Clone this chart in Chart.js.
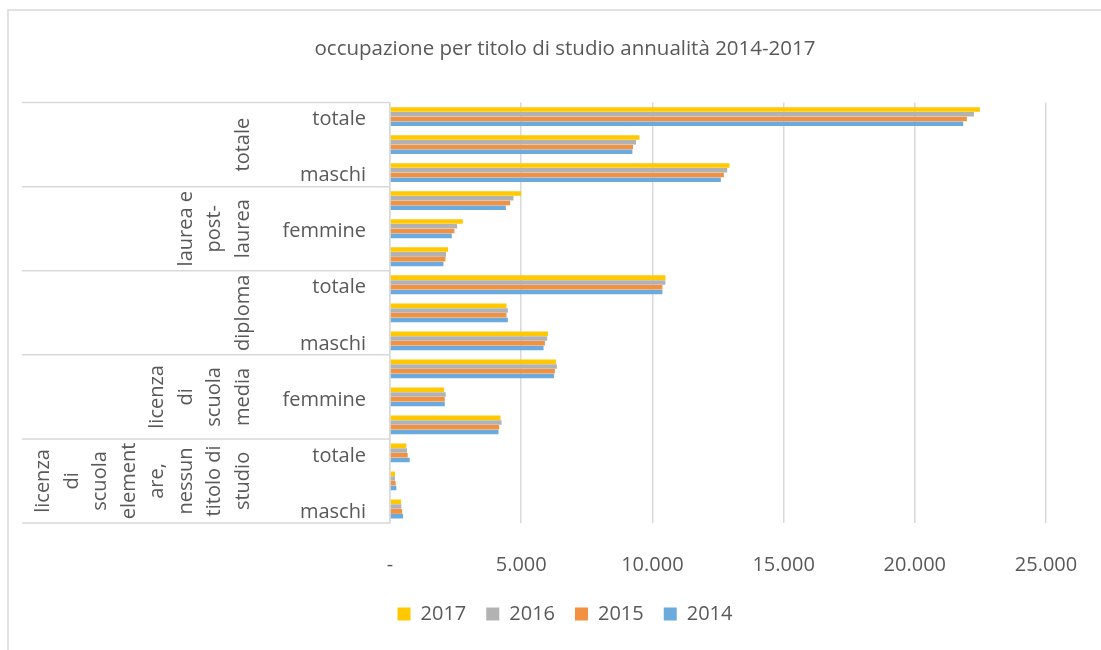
<!DOCTYPE html>
<html>
<head>
<meta charset="utf-8">
<script src="https://cdn.jsdelivr.net/npm/chart.js@4"></script>
<style>
  html, body { margin: 0; padding: 0; background: #fff; overflow: hidden; }
</style>
</head>
<body>
<canvas id="occupazione" width="1101" height="650"></canvas>
<script>
// righe dall'alto verso il basso
const rowLabels = ['totale', 'femmine', 'maschi', 'totale', 'femmine', 'maschi', 'totale', 'femmine', 'maschi',
                   'totale', 'femmine', 'maschi', 'totale', 'femmine', 'maschi'];
const groupLabels = [
  ['totale'],
  ['laurea e', 'post-', 'laurea'],
  ['diploma'],
  ['licenza', 'di', 'scuola', 'media'],
  ['licenza', 'di', 'scuola', 'element', 'are,', 'nessun', 'titolo di', 'studio']
];
const years = ['2017', '2016', '2015', '2014'];
const v2017 = [22481, 9504, 12939, 5000, 2774, 2214, 10496, 4440, 6018, 6323, 2061, 4211, 622, 191, 420];
const v2016 = [22252, 9378, 12851, 4707, 2557, 2137, 10496, 4491, 5992, 6361, 2125, 4249, 649, 191, 433];
const v2015 = [21985, 9263, 12723, 4580, 2455, 2112, 10382, 4440, 5903, 6285, 2087, 4160, 674, 216, 458];
const v2014 = [21844, 9237, 12608, 4415, 2354, 2036, 10382, 4491, 5852, 6247, 2087, 4135, 751, 242, 496];
const xTicks = [0, 5000, 10000, 15000, 20000, 25000];
const colors = ['#ffc800', '#b2b2b2', '#f2913f', '#6aaadc'];

const txtColor = '#595959';
const lineColor = '#d9d9d9';
const fontFamily = '"Open Sans", sans-serif';

// etichette di gruppo + linee di separazione (asse a più livelli)
const groupAxis = {
  id: 'groupAxis',
  beforeDraw(chart) {
    const ctx = chart.ctx;
    ctx.save();
    ctx.strokeStyle = lineColor;
    ctx.lineWidth = 1.5;
    ctx.beginPath();
    ctx.moveTo(8, 650); ctx.lineTo(8, 10); ctx.lineTo(1101, 10);
    ctx.stroke();
    ctx.restore();
  },
  afterDraw(chart) {
    const ctx = chart.ctx;
    const y = chart.scales.y;
    const area = chart.chartArea;
    ctx.save();
    ctx.strokeStyle = lineColor;
    ctx.lineWidth = 1.5;
    const n = groupLabels.length;
    for (let g = 0; g <= n; g++) {
      let py;
      if (g === 0) py = area.top;
      else if (g === n) py = area.bottom;
      else py = (y.getPixelForValue(g * 3 - 1) + y.getPixelForValue(g * 3)) / 2;
      ctx.beginPath();
      ctx.moveTo(22, py);
      ctx.lineTo(area.left, py);
      ctx.stroke();
    }
    ctx.fillStyle = txtColor;
    ctx.font = '20px ' + fontFamily;
    ctx.textAlign = 'center';
    ctx.textBaseline = 'middle';
    groupLabels.forEach((lines, g) => {
      const cy = y.getPixelForValue(g * 3 + 1);
      lines.forEach((line, i) => {
        const cx = area.left - 147 - (lines.length - 1 - i) * 28.5;
        ctx.save();
        ctx.translate(cx, cy);
        ctx.rotate(-Math.PI / 2);
        ctx.fillText(line, 0, 0);
        ctx.restore();
      });
    });
    ctx.restore();
  }
};

const datasets = years.map((yr, i) => ({
  label: yr,
  data: [v2017, v2016, v2015, v2014][i],
  backgroundColor: colors[i],
  borderWidth: 0,
  categoryPercentage: 0.68,
  barPercentage: 0.95
}));

new Chart(document.getElementById('occupazione'), {
  type: 'bar',
  data: { labels: rowLabels, datasets: datasets },
  plugins: [groupAxis],
  options: {
    indexAxis: 'y',
    responsive: false,
    animation: false,
    devicePixelRatio: 1,
    layout: { padding: { left: 84, right: 55, top: 10, bottom: 16 } },
    plugins: {
      title: {
        display: true,
        text: 'occupazione per titolo di studio annualità 2014-2017',
        color: txtColor,
        font: { family: fontFamily, size: 20.5, weight: 'normal' },
        padding: { top: 27, bottom: 41 }
      },
      legend: {
        position: 'bottom',
        labels: {
          color: txtColor,
          font: { family: fontFamily, size: 20 },
          boxWidth: 13,
          boxHeight: 13,
          padding: 20
        }
      },
      tooltip: { enabled: false }
    },
    scales: {
      x: {
        min: 0,
        max: 25000,
        afterBuildTicks(scale) { scale.ticks = xTicks.map(v => ({ value: v })); },
        afterFit(scale) {
          scale.height = 61;
          scale.paddingLeft = 0;
          scale.paddingRight = 0;
        },
        ticks: {
          color: txtColor,
          font: { family: fontFamily, size: 20 },
          padding: 30,
          callback: v => v === 0 ? '-' : v.toLocaleString('it-IT')
        },
        grid: { color: lineColor, lineWidth: 1.5, drawTicks: false },
        border: { display: false }
      },
      y: {
        afterFit(scale) { scale.width = 306; },
        ticks: {
          autoSkip: false,
          color: txtColor,
          font: { family: fontFamily, size: 20 },
          padding: 24,
          labelOffset: 3,
          callback: function (v, i) { return i % 2 === 0 ? this.getLabelForValue(v) : ''; }
        },
        grid: { display: false, drawTicks: false },
        border: { display: true, color: lineColor, width: 1.5 }
      }
    }
  }
});
</script>
</body>
</html>
